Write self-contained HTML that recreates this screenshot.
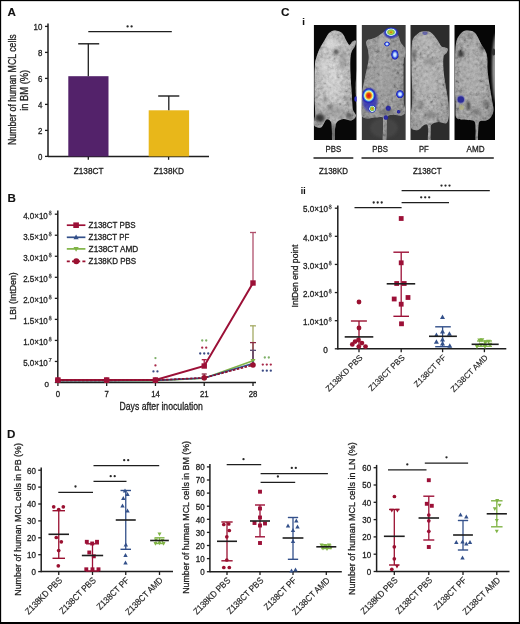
<!DOCTYPE html>
<html><head><meta charset="utf-8"><title>Figure</title>
<style>
html,body{margin:0;padding:0;background:#fff;}
body{width:520px;height:624px;overflow:hidden;}
svg{display:block;font-family:"Liberation Sans", sans-serif;}
</style></head><body>
<svg width="520" height="624" viewBox="0 0 520 624">
<rect x="0" y="0" width="520" height="624" fill="#fff"/>
<text transform="translate(7.40,15.90)" font-size="11.6" text-anchor="start" font-weight="bold" fill="#111" stroke="#111" stroke-width="0.1">A</text>
<line x1="48.00" y1="23.40" x2="48.00" y2="157.10" stroke="#1e1e1e" stroke-width="1.5" />
<line x1="45.00" y1="156.40" x2="48.00" y2="156.40" stroke="#1e1e1e" stroke-width="1.3" />
<text transform="translate(42.40,159.70) scale(0.9200,1)" font-size="8.6" text-anchor="end" font-weight="normal" fill="#1e1e1e" stroke="#1e1e1e" stroke-width="0.3">0</text>
<line x1="45.00" y1="130.40" x2="48.00" y2="130.40" stroke="#1e1e1e" stroke-width="1.3" />
<text transform="translate(42.40,133.70) scale(0.9200,1)" font-size="8.6" text-anchor="end" font-weight="normal" fill="#1e1e1e" stroke="#1e1e1e" stroke-width="0.3">2</text>
<line x1="45.00" y1="104.40" x2="48.00" y2="104.40" stroke="#1e1e1e" stroke-width="1.3" />
<text transform="translate(42.40,107.70) scale(0.9200,1)" font-size="8.6" text-anchor="end" font-weight="normal" fill="#1e1e1e" stroke="#1e1e1e" stroke-width="0.3">4</text>
<line x1="45.00" y1="78.40" x2="48.00" y2="78.40" stroke="#1e1e1e" stroke-width="1.3" />
<text transform="translate(42.40,81.70) scale(0.9200,1)" font-size="8.6" text-anchor="end" font-weight="normal" fill="#1e1e1e" stroke="#1e1e1e" stroke-width="0.3">6</text>
<line x1="45.00" y1="52.40" x2="48.00" y2="52.40" stroke="#1e1e1e" stroke-width="1.3" />
<text transform="translate(42.40,55.70) scale(0.9200,1)" font-size="8.6" text-anchor="end" font-weight="normal" fill="#1e1e1e" stroke="#1e1e1e" stroke-width="0.3">8</text>
<line x1="45.00" y1="26.40" x2="48.00" y2="26.40" stroke="#1e1e1e" stroke-width="1.3" />
<text transform="translate(42.40,29.70) scale(0.9200,1)" font-size="8.6" text-anchor="end" font-weight="normal" fill="#1e1e1e" stroke="#1e1e1e" stroke-width="0.3">10</text>
<line x1="48.00" y1="156.40" x2="209.00" y2="156.40" stroke="#1e1e1e" stroke-width="1.5" />
<line x1="88.30" y1="156.40" x2="88.30" y2="159.80" stroke="#1e1e1e" stroke-width="1.3" />
<line x1="168.60" y1="156.40" x2="168.60" y2="159.80" stroke="#1e1e1e" stroke-width="1.3" />
<rect x="68.3" y="76.2" width="40.2" height="80.20" fill="#53226a"/>
<rect x="148.7" y="110.3" width="40.4" height="46.10" fill="#e8b71a"/>
<line x1="88.30" y1="43.80" x2="88.30" y2="76.20" stroke="#1e1e1e" stroke-width="1.3" />
<line x1="78.20" y1="43.80" x2="99.20" y2="43.80" stroke="#1e1e1e" stroke-width="1.4" />
<line x1="168.80" y1="96.00" x2="168.80" y2="110.30" stroke="#1e1e1e" stroke-width="1.3" />
<line x1="158.20" y1="96.00" x2="179.30" y2="96.00" stroke="#1e1e1e" stroke-width="1.4" />
<line x1="88.30" y1="31.70" x2="171.80" y2="31.70" stroke="#1e1e1e" stroke-width="1.3" />
<circle cx="127.60" cy="26.40" r="1.15" fill="#262626"/>
<circle cx="131.60" cy="26.40" r="1.15" fill="#262626"/>
<text transform="translate(88.60,174.20) scale(0.9270,1)" font-size="8.9" text-anchor="middle" font-weight="normal" fill="#1e1e1e" stroke="#1e1e1e" stroke-width="0.3">Z138CT</text>
<text transform="translate(168.80,174.20) scale(0.9250,1)" font-size="8.9" text-anchor="middle" font-weight="normal" fill="#1e1e1e" stroke="#1e1e1e" stroke-width="0.3">Z138KD</text>
<text transform="translate(16.10,89.65) rotate(-90) scale(0.8614,1)" font-size="10.2" text-anchor="middle" font-weight="normal" fill="#1e1e1e" stroke="#1e1e1e" stroke-width="0.3">Number of human MCL cells</text>
<text transform="translate(27.90,90.30) rotate(-90) scale(0.9158,1)" font-size="10.2" text-anchor="middle" font-weight="normal" fill="#1e1e1e" stroke="#1e1e1e" stroke-width="0.3">in BM (%)</text>
<text transform="translate(7.40,202.20)" font-size="11.6" text-anchor="start" font-weight="bold" fill="#111" stroke="#111" stroke-width="0.1">B</text>
<line x1="57.80" y1="210.40" x2="57.80" y2="383.10" stroke="#1e1e1e" stroke-width="1.5" />
<line x1="54.80" y1="382.50" x2="57.80" y2="382.50" stroke="#1e1e1e" stroke-width="1.3" />
<text transform="translate(49.00,386.50)" font-size="8.0" text-anchor="end" font-weight="normal" fill="#1e1e1e" stroke="#1e1e1e" stroke-width="0.3">0</text>
<line x1="54.80" y1="361.46" x2="57.80" y2="361.46" stroke="#1e1e1e" stroke-width="1.3" />
<text transform="translate(47.82,365.76) scale(0.9300,1)" font-size="8.6" text-anchor="end" font-weight="normal" fill="#1e1e1e" stroke="#1e1e1e" stroke-width="0.3">5.0×10</text>
<text transform="translate(48.52,362.46) scale(0.9500,1)" font-size="6.2" text-anchor="start" font-weight="normal" fill="#1e1e1e" stroke="#1e1e1e" stroke-width="0.2">7</text>
<line x1="54.80" y1="340.43" x2="57.80" y2="340.43" stroke="#1e1e1e" stroke-width="1.3" />
<text transform="translate(47.82,344.73) scale(0.9300,1)" font-size="8.6" text-anchor="end" font-weight="normal" fill="#1e1e1e" stroke="#1e1e1e" stroke-width="0.3">1.0×10</text>
<ellipse cx="50.25" cy="338.07" rx="0.95" ry="0.85" fill="none" stroke="#1e1e1e" stroke-width="0.75"/>
<ellipse cx="50.25" cy="340.08" rx="1.15" ry="1.05" fill="none" stroke="#1e1e1e" stroke-width="0.75"/>
<line x1="54.80" y1="319.39" x2="57.80" y2="319.39" stroke="#1e1e1e" stroke-width="1.3" />
<text transform="translate(47.82,323.69) scale(0.9300,1)" font-size="8.6" text-anchor="end" font-weight="normal" fill="#1e1e1e" stroke="#1e1e1e" stroke-width="0.3">1.5×10</text>
<ellipse cx="50.25" cy="317.04" rx="0.95" ry="0.85" fill="none" stroke="#1e1e1e" stroke-width="0.75"/>
<ellipse cx="50.25" cy="319.04" rx="1.15" ry="1.05" fill="none" stroke="#1e1e1e" stroke-width="0.75"/>
<line x1="54.80" y1="298.35" x2="57.80" y2="298.35" stroke="#1e1e1e" stroke-width="1.3" />
<text transform="translate(47.82,302.65) scale(0.9300,1)" font-size="8.6" text-anchor="end" font-weight="normal" fill="#1e1e1e" stroke="#1e1e1e" stroke-width="0.3">2.0×10</text>
<ellipse cx="50.25" cy="296.00" rx="0.95" ry="0.85" fill="none" stroke="#1e1e1e" stroke-width="0.75"/>
<ellipse cx="50.25" cy="298.00" rx="1.15" ry="1.05" fill="none" stroke="#1e1e1e" stroke-width="0.75"/>
<line x1="54.80" y1="277.31" x2="57.80" y2="277.31" stroke="#1e1e1e" stroke-width="1.3" />
<text transform="translate(47.82,281.61) scale(0.9300,1)" font-size="8.6" text-anchor="end" font-weight="normal" fill="#1e1e1e" stroke="#1e1e1e" stroke-width="0.3">2.5×10</text>
<ellipse cx="50.25" cy="274.96" rx="0.95" ry="0.85" fill="none" stroke="#1e1e1e" stroke-width="0.75"/>
<ellipse cx="50.25" cy="276.96" rx="1.15" ry="1.05" fill="none" stroke="#1e1e1e" stroke-width="0.75"/>
<line x1="54.80" y1="256.27" x2="57.80" y2="256.27" stroke="#1e1e1e" stroke-width="1.3" />
<text transform="translate(47.82,260.57) scale(0.9300,1)" font-size="8.6" text-anchor="end" font-weight="normal" fill="#1e1e1e" stroke="#1e1e1e" stroke-width="0.3">3.0×10</text>
<ellipse cx="50.25" cy="253.92" rx="0.95" ry="0.85" fill="none" stroke="#1e1e1e" stroke-width="0.75"/>
<ellipse cx="50.25" cy="255.92" rx="1.15" ry="1.05" fill="none" stroke="#1e1e1e" stroke-width="0.75"/>
<line x1="54.80" y1="235.24" x2="57.80" y2="235.24" stroke="#1e1e1e" stroke-width="1.3" />
<text transform="translate(47.82,239.54) scale(0.9300,1)" font-size="8.6" text-anchor="end" font-weight="normal" fill="#1e1e1e" stroke="#1e1e1e" stroke-width="0.3">3.5×10</text>
<ellipse cx="50.25" cy="232.89" rx="0.95" ry="0.85" fill="none" stroke="#1e1e1e" stroke-width="0.75"/>
<ellipse cx="50.25" cy="234.89" rx="1.15" ry="1.05" fill="none" stroke="#1e1e1e" stroke-width="0.75"/>
<line x1="54.80" y1="214.20" x2="57.80" y2="214.20" stroke="#1e1e1e" stroke-width="1.3" />
<text transform="translate(47.82,218.50) scale(0.9300,1)" font-size="8.6" text-anchor="end" font-weight="normal" fill="#1e1e1e" stroke="#1e1e1e" stroke-width="0.3">4.0×10</text>
<ellipse cx="50.25" cy="211.85" rx="0.95" ry="0.85" fill="none" stroke="#1e1e1e" stroke-width="0.75"/>
<ellipse cx="50.25" cy="213.85" rx="1.15" ry="1.05" fill="none" stroke="#1e1e1e" stroke-width="0.75"/>
<line x1="57.80" y1="382.50" x2="256.00" y2="382.50" stroke="#1e1e1e" stroke-width="1.6" />
<line x1="57.90" y1="382.50" x2="57.90" y2="386.00" stroke="#1e1e1e" stroke-width="1.3" />
<text transform="translate(57.90,396.80) scale(0.9500,1)" font-size="8.2" text-anchor="middle" font-weight="normal" fill="#1e1e1e" stroke="#1e1e1e" stroke-width="0.3">0</text>
<line x1="106.67" y1="382.50" x2="106.67" y2="386.00" stroke="#1e1e1e" stroke-width="1.3" />
<text transform="translate(106.67,396.80) scale(0.9500,1)" font-size="8.2" text-anchor="middle" font-weight="normal" fill="#1e1e1e" stroke="#1e1e1e" stroke-width="0.3">7</text>
<line x1="155.45" y1="382.50" x2="155.45" y2="386.00" stroke="#1e1e1e" stroke-width="1.3" />
<text transform="translate(155.45,396.80) scale(0.9500,1)" font-size="8.2" text-anchor="middle" font-weight="normal" fill="#1e1e1e" stroke="#1e1e1e" stroke-width="0.3">14</text>
<line x1="204.22" y1="382.50" x2="204.22" y2="386.00" stroke="#1e1e1e" stroke-width="1.3" />
<text transform="translate(204.22,396.80) scale(0.9500,1)" font-size="8.2" text-anchor="middle" font-weight="normal" fill="#1e1e1e" stroke="#1e1e1e" stroke-width="0.3">21</text>
<line x1="253.00" y1="382.50" x2="253.00" y2="386.00" stroke="#1e1e1e" stroke-width="1.3" />
<text transform="translate(253.00,396.80) scale(0.9500,1)" font-size="8.2" text-anchor="middle" font-weight="normal" fill="#1e1e1e" stroke="#1e1e1e" stroke-width="0.3">28</text>
<text transform="translate(161.20,409.60) scale(0.8350,1)" font-size="10.4" text-anchor="middle" font-weight="normal" fill="#1e1e1e" stroke="#1e1e1e" stroke-width="0.3">Days after inoculation</text>
<text transform="translate(15.70,296.00) rotate(-90) scale(0.9374,1)" font-size="9.4" text-anchor="middle" font-weight="normal" fill="#1e1e1e" stroke="#1e1e1e" stroke-width="0.3">LBI (IntDen)</text>
<line x1="253.00" y1="232.50" x2="253.00" y2="283.00" stroke="#b0506c" stroke-width="1.3" opacity="1.0"/>
<line x1="250.00" y1="232.50" x2="256.00" y2="232.50" stroke="#b0506c" stroke-width="1.3" opacity="1.0"/>
<line x1="253.00" y1="325.80" x2="253.00" y2="361.00" stroke="#a4aa64" stroke-width="1.3" opacity="1.0"/>
<line x1="250.00" y1="325.80" x2="256.00" y2="325.80" stroke="#a4aa64" stroke-width="1.3" opacity="1.0"/>
<line x1="253.00" y1="342.60" x2="253.00" y2="365.00" stroke="#8a2a44" stroke-width="1.3" opacity="1.0"/>
<line x1="250.00" y1="342.60" x2="256.00" y2="342.60" stroke="#8a2a44" stroke-width="1.3" opacity="1.0"/>
<line x1="253.00" y1="350.30" x2="253.00" y2="364.00" stroke="#5a4a70" stroke-width="1.3" opacity="1.0"/>
<line x1="250.00" y1="350.30" x2="256.00" y2="350.30" stroke="#5a4a70" stroke-width="1.3" opacity="1.0"/>
<line x1="204.22" y1="359.70" x2="204.22" y2="366.00" stroke="#a8133c" stroke-width="1.3" opacity="1.0"/>
<line x1="201.72" y1="359.70" x2="206.72" y2="359.70" stroke="#a8133c" stroke-width="1.3" opacity="1.0"/>
<line x1="204.22" y1="374.00" x2="204.22" y2="378.00" stroke="#8a2a44" stroke-width="1.3" opacity="1.0"/>
<line x1="201.72" y1="374.00" x2="206.72" y2="374.00" stroke="#8a2a44" stroke-width="1.3" opacity="1.0"/>
<polyline points="57.90,380.80 106.67,380.80 155.45,380.60 204.22,378.20 253.00,360.80" fill="none" stroke="#80b446" stroke-width="1.6"/>
<polyline points="57.90,380.60 106.67,380.60 155.45,380.40 204.22,378.00 253.00,363.50" fill="none" stroke="#33508a" stroke-width="1.6"/>
<polyline points="57.90,380.00 106.67,380.00 155.45,380.00 204.22,366.00 253.00,283.00" fill="none" stroke="#9c1037" stroke-width="2.0"/>
<polyline points="57.90,380.30 106.67,380.30 155.45,380.20 204.22,377.80 253.00,365.00" fill="none" stroke="#8a1030" stroke-width="1.7" stroke-dasharray="2.6,1.4"/>
<polygon points="57.90,383.50 55.40,379.00 60.40,379.00" fill="#80b446"/>
<polygon points="106.67,383.50 104.17,379.00 109.17,379.00" fill="#80b446"/>
<polygon points="155.45,383.30 152.95,378.80 157.95,378.80" fill="#80b446"/>
<polygon points="204.22,380.90 201.72,376.40 206.72,376.40" fill="#80b446"/>
<polygon points="253.00,363.50 250.50,359.00 255.50,359.00" fill="#80b446"/>
<polygon points="57.90,377.90 55.40,382.40 60.40,382.40" fill="#33508a"/>
<polygon points="106.67,377.90 104.17,382.40 109.17,382.40" fill="#33508a"/>
<polygon points="155.45,377.70 152.95,382.20 157.95,382.20" fill="#33508a"/>
<polygon points="204.22,375.30 201.72,379.80 206.72,379.80" fill="#33508a"/>
<polygon points="253.00,360.80 250.50,365.30 255.50,365.30" fill="#33508a"/>
<circle cx="57.90" cy="380.30" r="2.8" fill="#9a1030"/>
<circle cx="106.67" cy="380.30" r="2.8" fill="#9a1030"/>
<circle cx="155.45" cy="380.20" r="2.8" fill="#9a1030"/>
<circle cx="204.22" cy="377.80" r="2.8" fill="#9a1030"/>
<circle cx="253.00" cy="365.00" r="2.8" fill="#9a1030"/>
<rect x="55.20" y="377.30" width="5.4" height="5.4" fill="#9c1037"/>
<rect x="103.97" y="377.30" width="5.4" height="5.4" fill="#9c1037"/>
<rect x="152.75" y="377.30" width="5.4" height="5.4" fill="#9c1037"/>
<rect x="201.53" y="363.30" width="5.4" height="5.4" fill="#9c1037"/>
<rect x="250.30" y="280.30" width="5.4" height="5.4" fill="#9c1037"/>
<circle cx="155.45" cy="358.10" r="1.15" fill="#7eb068"/>
<circle cx="155.45" cy="365.40" r="1.15" fill="#a82848"/>
<circle cx="153.45" cy="371.40" r="1.15" fill="#3a4a84"/>
<circle cx="157.45" cy="371.40" r="1.15" fill="#3a4a84"/>
<circle cx="202.22" cy="340.50" r="1.15" fill="#7eb068"/>
<circle cx="206.22" cy="340.50" r="1.15" fill="#7eb068"/>
<circle cx="202.22" cy="347.70" r="1.15" fill="#a82848"/>
<circle cx="206.22" cy="347.70" r="1.15" fill="#a82848"/>
<circle cx="200.22" cy="353.50" r="1.15" fill="#3a4a84"/>
<circle cx="204.22" cy="353.50" r="1.15" fill="#3a4a84"/>
<circle cx="208.22" cy="353.50" r="1.15" fill="#3a4a84"/>
<circle cx="264.80" cy="357.50" r="1.15" fill="#7eb068"/>
<circle cx="268.80" cy="357.50" r="1.15" fill="#7eb068"/>
<circle cx="262.80" cy="364.60" r="1.15" fill="#a82848"/>
<circle cx="266.80" cy="364.60" r="1.15" fill="#a82848"/>
<circle cx="270.80" cy="364.60" r="1.15" fill="#a82848"/>
<circle cx="262.80" cy="370.70" r="1.15" fill="#3a4a84"/>
<circle cx="266.80" cy="370.70" r="1.15" fill="#3a4a84"/>
<circle cx="270.80" cy="370.70" r="1.15" fill="#3a4a84"/>
<line x1="66.80" y1="225.20" x2="85.40" y2="225.20" stroke="#9c1037" stroke-width="1.7" />
<rect x="73.30" y="222.40" width="5.6" height="5.6" fill="#9c1037"/>
<text transform="translate(88.60,228.30) scale(0.9306,1)" font-size="8.6" text-anchor="start" font-weight="normal" fill="#1e1e1e" stroke="#1e1e1e" stroke-width="0.3">Z138CT PBS</text>
<line x1="66.80" y1="237.30" x2="85.40" y2="237.30" stroke="#33508a" stroke-width="1.7" />
<polygon points="76.10,234.49 73.50,239.17 78.70,239.17" fill="#33508a"/>
<text transform="translate(88.60,240.40) scale(0.9213,1)" font-size="8.6" text-anchor="start" font-weight="normal" fill="#1e1e1e" stroke="#1e1e1e" stroke-width="0.3">Z138CT PF</text>
<line x1="66.80" y1="248.90" x2="85.40" y2="248.90" stroke="#80b446" stroke-width="1.7" />
<polygon points="76.10,251.71 73.50,247.03 78.70,247.03" fill="#80b446"/>
<text transform="translate(88.60,252.00) scale(0.9589,1)" font-size="8.6" text-anchor="start" font-weight="normal" fill="#1e1e1e" stroke="#1e1e1e" stroke-width="0.3">Z138CT AMD</text>
<line x1="66.80" y1="261.30" x2="85.40" y2="261.30" stroke="#9a1030" stroke-width="1.7" stroke-dasharray="3,2.2"/>
<circle cx="76.30" cy="261.30" r="3.0" fill="#9a1030"/>
<text transform="translate(88.60,264.40) scale(0.9307,1)" font-size="8.6" text-anchor="start" font-weight="normal" fill="#1e1e1e" stroke="#1e1e1e" stroke-width="0.3">Z138KD PBS</text>
<text transform="translate(281.00,16.20)" font-size="11.8" text-anchor="start" font-weight="bold" fill="#111" stroke="#111" stroke-width="0.1">C</text>
<text transform="translate(302.30,24.80)" font-size="9.5" text-anchor="start" font-weight="bold" fill="#111" stroke="#111" stroke-width="0.1">i</text>
<defs>
<filter id="bl1" x="-20%" y="-20%" width="140%" height="140%"><feGaussianBlur stdDeviation="0.8"/></filter>
<filter id="bl2" x="-50%" y="-50%" width="200%" height="200%"><feGaussianBlur stdDeviation="1.6"/></filter>
<filter id="bl3" x="-50%" y="-50%" width="200%" height="200%"><feGaussianBlur stdDeviation="0.6"/></filter>
<filter id="noise" x="0" y="0" width="100%" height="100%"><feTurbulence type="fractalNoise" baseFrequency="0.3" numOctaves="3" seed="7"/><feColorMatrix type="matrix" values="0.7 0.7 0.7 0 -0.55  0.7 0.7 0.7 0 -0.55  0.7 0.7 0.7 0 -0.55  0 0 0 0 1"/></filter>
<radialGradient id="mg0" cx="45%" cy="38%" r="65%"><stop offset="0" stop-color="#d8d8d8"/><stop offset="0.6" stop-color="#b2b2b2"/><stop offset="1" stop-color="#828282"/></radialGradient>
<radialGradient id="mg1" cx="45%" cy="38%" r="65%"><stop offset="0" stop-color="#929292"/><stop offset="0.6" stop-color="#7e7e7e"/><stop offset="1" stop-color="#626262"/></radialGradient>
<radialGradient id="mg2" cx="45%" cy="38%" r="65%"><stop offset="0" stop-color="#b0b0b0"/><stop offset="0.6" stop-color="#9a9a9a"/><stop offset="1" stop-color="#767676"/></radialGradient>
<radialGradient id="mg3" cx="45%" cy="38%" r="65%"><stop offset="0" stop-color="#a8a8a8"/><stop offset="0.6" stop-color="#8e8e8e"/><stop offset="1" stop-color="#6a6a6a"/></radialGradient>
<clipPath id="ci1"><rect x="313.7" y="25.0" width="43.0" height="115.0"/></clipPath>
<clipPath id="ci2"><rect x="361.6" y="25.0" width="44.2" height="115.0"/></clipPath>
<clipPath id="ci3"><rect x="410.3" y="25.0" width="39.4" height="115.0"/></clipPath>
<clipPath id="ci4"><rect x="454.3" y="25.0" width="40.7" height="115.0"/></clipPath>
<clipPath id="mc1"><path d="M335.50,30.60 C337.00,30.73 339.17,31.27 340.50,32.00 C341.83,32.73 342.50,33.50 343.50,35.00 C344.50,36.50 345.50,39.33 346.50,41.00 C347.50,42.67 348.50,44.92 349.50,45.00 C350.50,45.08 351.45,42.20 352.50,41.50 C353.55,40.80 355.38,40.05 355.80,40.80 C356.22,41.55 355.72,44.13 355.00,46.00 C354.28,47.87 352.28,49.67 351.50,52.00 C350.72,54.33 350.47,56.17 350.30,60.00 C350.13,63.83 350.30,70.00 350.50,75.00 C350.70,80.00 351.20,85.33 351.50,90.00 C351.80,94.67 352.05,99.67 352.30,103.00 C352.55,106.33 352.38,107.83 353.00,110.00 C353.62,112.17 356.28,114.25 356.00,116.00 C355.72,117.75 353.37,120.00 351.30,120.50 C349.23,121.00 345.98,118.75 343.60,119.00 C341.22,119.25 338.45,120.17 337.00,122.00 C335.55,123.83 335.30,126.83 334.90,130.00 C334.50,133.17 335.05,139.17 334.60,141.00 C334.15,142.83 332.65,142.83 332.20,141.00 C331.75,139.17 332.10,133.17 331.90,130.00 C331.70,126.83 331.92,123.75 331.00,122.00 C330.08,120.25 328.07,118.58 326.40,119.50 C324.73,120.42 323.07,126.58 321.00,127.50 C318.93,128.42 314.97,127.20 314.00,125.00 C313.03,122.80 315.10,118.47 315.20,114.30 C315.30,110.13 314.72,105.72 314.60,100.00 C314.48,94.28 314.43,86.00 314.50,80.00 C314.57,74.00 314.72,67.67 315.00,64.00 C315.28,60.33 315.67,60.00 316.20,58.00 C316.73,56.00 317.48,53.83 318.20,52.00 C318.92,50.17 319.62,48.67 320.50,47.00 C321.38,45.33 322.62,43.50 323.50,42.00 C324.38,40.50 325.02,39.33 325.80,38.00 C326.58,36.67 327.25,35.13 328.20,34.00 C329.15,32.87 330.28,31.77 331.50,31.20 C332.72,30.63 334.00,30.47 335.50,30.60 Z"/></clipPath>
<clipPath id="mc2"><path d="M383.00,32.50 C384.75,31.33 386.17,29.83 388.00,29.50 C389.83,29.17 392.25,29.42 394.00,30.50 C395.75,31.58 397.42,34.08 398.50,36.00 C399.58,37.92 399.67,40.33 400.50,42.00 C401.33,43.67 402.50,44.67 403.50,46.00 C404.50,47.33 406.17,48.50 406.50,50.00 C406.83,51.50 405.95,53.33 405.50,55.00 C405.05,56.67 404.13,56.67 403.80,60.00 C403.47,63.33 403.55,69.67 403.50,75.00 C403.45,80.33 403.42,87.17 403.50,92.00 C403.58,96.83 403.58,100.83 404.00,104.00 C404.42,107.17 406.33,109.08 406.00,111.00 C405.67,112.92 404.00,114.83 402.00,115.50 C400.00,116.17 396.33,114.92 394.00,115.00 C391.67,115.08 389.23,114.33 388.00,116.00 C386.77,117.67 386.93,120.83 386.60,125.00 C386.27,129.17 386.60,138.33 386.00,141.00 C385.40,143.67 383.43,143.67 383.00,141.00 C382.57,138.33 383.37,128.92 383.40,125.00 C383.43,121.08 384.43,118.75 383.20,117.50 C381.97,116.25 378.87,117.33 376.00,117.50 C373.13,117.67 368.42,118.92 366.00,118.50 C363.58,118.08 362.25,117.42 361.50,115.00 C360.75,112.58 361.33,108.17 361.50,104.00 C361.67,99.83 361.83,94.83 362.50,90.00 C363.17,85.17 364.50,80.00 365.50,75.00 C366.50,70.00 368.08,64.17 368.50,60.00 C368.92,55.83 368.42,52.75 368.00,50.00 C367.58,47.25 366.08,45.17 366.00,43.50 C365.92,41.83 366.58,40.75 367.50,40.00 C368.42,39.25 369.83,39.58 371.50,39.00 C373.17,38.42 375.58,37.58 377.50,36.50 C379.42,35.42 381.25,33.67 383.00,32.50 Z"/></clipPath>
<clipPath id="mc3"><path d="M424.70,31.20 C426.20,31.23 428.45,31.28 430.00,32.00 C431.55,32.72 432.67,34.00 434.00,35.50 C435.33,37.00 436.75,39.17 438.00,41.00 C439.25,42.83 440.33,45.42 441.50,46.50 C442.67,47.58 443.92,47.08 445.00,47.50 C446.08,47.92 447.75,48.08 448.00,49.00 C448.25,49.92 447.25,51.67 446.50,53.00 C445.75,54.33 444.00,54.17 443.50,57.00 C443.00,59.83 443.17,65.33 443.50,70.00 C443.83,74.67 444.75,80.00 445.50,85.00 C446.25,90.00 447.42,95.83 448.00,100.00 C448.58,104.17 448.92,107.00 449.00,110.00 C449.08,113.00 449.00,115.75 448.50,118.00 C448.00,120.25 447.63,122.83 446.00,123.50 C444.37,124.17 441.12,121.83 438.70,122.00 C436.28,122.17 432.85,122.83 431.50,124.50 C430.15,126.17 430.78,129.25 430.60,132.00 C430.42,134.75 430.83,139.50 430.40,141.00 C429.97,142.50 428.40,142.50 428.00,141.00 C427.60,139.50 428.08,134.67 428.00,132.00 C427.92,129.33 428.17,126.17 427.50,125.00 C426.83,123.83 425.58,124.17 424.00,125.00 C422.42,125.83 420.17,129.50 418.00,130.00 C415.83,130.50 412.23,130.00 411.00,128.00 C409.77,126.00 410.43,122.00 410.60,118.00 C410.77,114.00 411.77,109.50 412.00,104.00 C412.23,98.50 412.08,91.50 412.00,85.00 C411.92,78.50 411.55,71.17 411.50,65.00 C411.45,58.83 411.45,52.33 411.70,48.00 C411.95,43.67 412.03,41.33 413.00,39.00 C413.97,36.67 416.17,35.20 417.50,34.00 C418.83,32.80 419.80,32.27 421.00,31.80 C422.20,31.33 423.20,31.17 424.70,31.20 Z"/></clipPath>
<clipPath id="mc4"><path d="M466.90,30.40 C468.40,30.32 470.57,30.48 472.00,31.00 C473.43,31.52 474.42,32.25 475.50,33.50 C476.58,34.75 477.47,36.58 478.50,38.50 C479.53,40.42 480.53,42.92 481.70,45.00 C482.87,47.08 484.57,48.83 485.50,51.00 C486.43,53.17 486.97,54.83 487.30,58.00 C487.63,61.17 487.13,65.50 487.50,70.00 C487.87,74.50 488.75,80.00 489.50,85.00 C490.25,90.00 491.33,95.83 492.00,100.00 C492.67,104.17 493.67,107.17 493.50,110.00 C493.33,112.83 492.25,115.25 491.00,117.00 C489.75,118.75 487.92,119.75 486.00,120.50 C484.08,121.25 480.80,119.92 479.50,121.50 C478.20,123.08 478.48,126.75 478.20,130.00 C477.92,133.25 478.23,139.17 477.80,141.00 C477.37,142.83 475.97,142.83 475.60,141.00 C475.23,139.17 475.78,133.25 475.60,130.00 C475.42,126.75 475.77,123.17 474.50,121.50 C473.23,119.83 470.25,120.33 468.00,120.00 C465.75,119.67 463.00,120.00 461.00,119.50 C459.00,119.00 456.90,119.42 456.00,117.00 C455.10,114.58 455.77,109.50 455.60,105.00 C455.43,100.50 455.10,95.83 455.00,90.00 C454.90,84.17 454.95,76.33 455.00,70.00 C455.05,63.67 455.05,56.83 455.30,52.00 C455.55,47.17 455.80,43.83 456.50,41.00 C457.20,38.17 458.42,36.58 459.50,35.00 C460.58,33.42 461.77,32.27 463.00,31.50 C464.23,30.73 465.40,30.48 466.90,30.40 Z"/></clipPath>
<radialGradient id="hot"><stop offset="0" stop-color="#d81010"/><stop offset="0.3" stop-color="#e84a10"/><stop offset="0.45" stop-color="#f0d830"/><stop offset="0.56" stop-color="#e8f0d0"/><stop offset="0.66" stop-color="#50b0e0"/><stop offset="0.8" stop-color="#2424c0"/><stop offset="1" stop-color="#2020b0" stop-opacity="0"/></radialGradient>
<radialGradient id="warm"><stop offset="0" stop-color="#c05010"/><stop offset="0.22" stop-color="#d8c020"/><stop offset="0.45" stop-color="#70c050"/><stop offset="0.62" stop-color="#e0f0f0"/><stop offset="0.75" stop-color="#3050d0"/><stop offset="1" stop-color="#2020b0" stop-opacity="0"/></radialGradient>
<radialGradient id="cool"><stop offset="0" stop-color="#f4f8ff"/><stop offset="0.35" stop-color="#b0d0ff"/><stop offset="0.6" stop-color="#3858e0"/><stop offset="0.82" stop-color="#2020b8"/><stop offset="1" stop-color="#2020b0" stop-opacity="0"/></radialGradient>
<radialGradient id="blu"><stop offset="0" stop-color="#3434a8"/><stop offset="0.6" stop-color="#26269c"/><stop offset="1" stop-color="#202098" stop-opacity="0"/></radialGradient>
<radialGradient id="halo"><stop offset="0" stop-color="#2828c0" stop-opacity="0.9"/><stop offset="0.7" stop-color="#2828b8" stop-opacity="0.7"/><stop offset="1" stop-color="#2020b0" stop-opacity="0"/></radialGradient>
</defs>
<g clip-path="url(#ci1)">
<rect x="313.7" y="25.0" width="43.0" height="115.0" fill="#080808"/>
<ellipse cx="360.2" cy="88" rx="4.5" ry="26" fill="#c8c8c8" filter="url(#bl3)"/>
<path d="M335.50,30.60 C337.00,30.73 339.17,31.27 340.50,32.00 C341.83,32.73 342.50,33.50 343.50,35.00 C344.50,36.50 345.50,39.33 346.50,41.00 C347.50,42.67 348.50,44.92 349.50,45.00 C350.50,45.08 351.45,42.20 352.50,41.50 C353.55,40.80 355.38,40.05 355.80,40.80 C356.22,41.55 355.72,44.13 355.00,46.00 C354.28,47.87 352.28,49.67 351.50,52.00 C350.72,54.33 350.47,56.17 350.30,60.00 C350.13,63.83 350.30,70.00 350.50,75.00 C350.70,80.00 351.20,85.33 351.50,90.00 C351.80,94.67 352.05,99.67 352.30,103.00 C352.55,106.33 352.38,107.83 353.00,110.00 C353.62,112.17 356.28,114.25 356.00,116.00 C355.72,117.75 353.37,120.00 351.30,120.50 C349.23,121.00 345.98,118.75 343.60,119.00 C341.22,119.25 338.45,120.17 337.00,122.00 C335.55,123.83 335.30,126.83 334.90,130.00 C334.50,133.17 335.05,139.17 334.60,141.00 C334.15,142.83 332.65,142.83 332.20,141.00 C331.75,139.17 332.10,133.17 331.90,130.00 C331.70,126.83 331.92,123.75 331.00,122.00 C330.08,120.25 328.07,118.58 326.40,119.50 C324.73,120.42 323.07,126.58 321.00,127.50 C318.93,128.42 314.97,127.20 314.00,125.00 C313.03,122.80 315.10,118.47 315.20,114.30 C315.30,110.13 314.72,105.72 314.60,100.00 C314.48,94.28 314.43,86.00 314.50,80.00 C314.57,74.00 314.72,67.67 315.00,64.00 C315.28,60.33 315.67,60.00 316.20,58.00 C316.73,56.00 317.48,53.83 318.20,52.00 C318.92,50.17 319.62,48.67 320.50,47.00 C321.38,45.33 322.62,43.50 323.50,42.00 C324.38,40.50 325.02,39.33 325.80,38.00 C326.58,36.67 327.25,35.13 328.20,34.00 C329.15,32.87 330.28,31.77 331.50,31.20 C332.72,30.63 334.00,30.47 335.50,30.60 Z" fill="url(#mg0)" filter="url(#bl3)"/>
<g clip-path="url(#mc1)">
<rect x="313.7" y="25.0" width="43.0" height="115.0" filter="url(#noise)" opacity="0.4" style="mix-blend-mode:multiply"/>
<ellipse cx="336" cy="52" rx="2.2" ry="2.8" fill="#303030" opacity="0.85" filter="url(#bl2)"/>
<ellipse cx="331" cy="44" rx="6" ry="5" fill="#e8e8e8" opacity="0.55" filter="url(#bl2)"/>
<ellipse cx="324" cy="66" rx="5" ry="8" fill="#e0e0e0" opacity="0.45" filter="url(#bl2)"/>
<ellipse cx="343" cy="60" rx="4" ry="10" fill="#8a8a8a" opacity="0.5" filter="url(#bl2)"/>
<ellipse cx="330.5" cy="107" rx="2.2" ry="2.2" fill="#404040" opacity="0.8" filter="url(#bl2)"/>
<ellipse cx="326" cy="99" rx="2" ry="2" fill="#606060" opacity="0.6" filter="url(#bl2)"/>
<ellipse cx="347" cy="99" rx="2" ry="2" fill="#606060" opacity="0.6" filter="url(#bl2)"/>
<ellipse cx="333" cy="85" rx="9" ry="14" fill="#d8d8d8" opacity="0.35" filter="url(#bl2)"/>
<ellipse cx="320" cy="118" rx="5" ry="4" fill="#202020" opacity="0.85" filter="url(#bl2)"/>
<ellipse cx="349" cy="116" rx="3" ry="3" fill="#303030" opacity="0.6" filter="url(#bl2)"/>
<ellipse cx="333.4" cy="133" rx="2.5" ry="10" fill="#505050" opacity="0.7" filter="url(#bl2)"/>
<ellipse cx="335" cy="112" rx="12" ry="6" fill="#8a8a8a" opacity="0.45" filter="url(#bl2)"/>
</g>
<ellipse cx="356.0" cy="99.0" rx="1.8" ry="2.8" fill="#3030c8" opacity="1.0" filter="url(#bl3)"/>
</g>
<g clip-path="url(#ci2)">
<rect x="361.6" y="25.0" width="44.2" height="115.0" fill="#3a3a3a"/>
<ellipse cx="384" cy="128" rx="14" ry="10" fill="#484848" opacity="0.8" filter="url(#bl2)"/>
<path d="M383.2,116 L386.8,116 L386.2,141 L382.8,141 Z" fill="#b8b8b8" filter="url(#bl3)"/>
<path d="M383.00,32.50 C384.75,31.33 386.17,29.83 388.00,29.50 C389.83,29.17 392.25,29.42 394.00,30.50 C395.75,31.58 397.42,34.08 398.50,36.00 C399.58,37.92 399.67,40.33 400.50,42.00 C401.33,43.67 402.50,44.67 403.50,46.00 C404.50,47.33 406.17,48.50 406.50,50.00 C406.83,51.50 405.95,53.33 405.50,55.00 C405.05,56.67 404.13,56.67 403.80,60.00 C403.47,63.33 403.55,69.67 403.50,75.00 C403.45,80.33 403.42,87.17 403.50,92.00 C403.58,96.83 403.58,100.83 404.00,104.00 C404.42,107.17 406.33,109.08 406.00,111.00 C405.67,112.92 404.00,114.83 402.00,115.50 C400.00,116.17 396.33,114.92 394.00,115.00 C391.67,115.08 389.23,114.33 388.00,116.00 C386.77,117.67 386.93,120.83 386.60,125.00 C386.27,129.17 386.60,138.33 386.00,141.00 C385.40,143.67 383.43,143.67 383.00,141.00 C382.57,138.33 383.37,128.92 383.40,125.00 C383.43,121.08 384.43,118.75 383.20,117.50 C381.97,116.25 378.87,117.33 376.00,117.50 C373.13,117.67 368.42,118.92 366.00,118.50 C363.58,118.08 362.25,117.42 361.50,115.00 C360.75,112.58 361.33,108.17 361.50,104.00 C361.67,99.83 361.83,94.83 362.50,90.00 C363.17,85.17 364.50,80.00 365.50,75.00 C366.50,70.00 368.08,64.17 368.50,60.00 C368.92,55.83 368.42,52.75 368.00,50.00 C367.58,47.25 366.08,45.17 366.00,43.50 C365.92,41.83 366.58,40.75 367.50,40.00 C368.42,39.25 369.83,39.58 371.50,39.00 C373.17,38.42 375.58,37.58 377.50,36.50 C379.42,35.42 381.25,33.67 383.00,32.50 Z" fill="url(#mg1)" filter="url(#bl3)"/>
<g clip-path="url(#mc2)">
<rect x="361.6" y="25.0" width="44.2" height="115.0" filter="url(#noise)" opacity="0.4" style="mix-blend-mode:multiply"/>
<ellipse cx="384" cy="42" rx="6" ry="6" fill="#b8b8b8" opacity="0.6" filter="url(#bl2)"/>
<ellipse cx="384" cy="75" rx="10" ry="18" fill="#a0a0a0" opacity="0.35" filter="url(#bl2)"/>
<ellipse cx="386" cy="112" rx="8" ry="3" fill="#5a5a5a" opacity="0.5" filter="url(#bl2)"/>
</g>
<ellipse cx="370.0" cy="100.0" rx="9.0" ry="13.5" fill="url(#halo)"/>
<ellipse cx="391.2" cy="33.0" rx="8.6" ry="6.4" fill="url(#halo)"/>
<ellipse cx="391.0" cy="32.2" rx="7.2" ry="5.2" fill="url(#warm)"/>
<ellipse cx="387.0" cy="44.0" rx="3.0" ry="2.8" fill="url(#cool)"/>
<ellipse cx="394.9" cy="54.7" rx="4.0" ry="5.4" fill="url(#cool)"/>
<ellipse cx="368.8" cy="95.6" rx="7.4" ry="8.2" fill="url(#hot)"/>
<ellipse cx="372.2" cy="108.8" rx="4.2" ry="4.4" fill="url(#warm)"/>
<ellipse cx="400.0" cy="94.2" rx="4.2" ry="4.4" fill="url(#cool)"/>
<ellipse cx="388.3" cy="108.3" rx="3.2" ry="3.2" fill="url(#blu)"/>
<ellipse cx="385.9" cy="117.6" rx="2.8" ry="2.8" fill="url(#blu)"/>
<ellipse cx="398.6" cy="111.8" rx="2.2" ry="2.2" fill="url(#blu)"/>
</g>
<g clip-path="url(#ci3)">
<rect x="410.3" y="25.0" width="39.4" height="115.0" fill="#2c2c2c"/>
<ellipse cx="452.5" cy="72" rx="3" ry="20" fill="#8a8a8a" filter="url(#bl3)"/>
<path d="M424.70,31.20 C426.20,31.23 428.45,31.28 430.00,32.00 C431.55,32.72 432.67,34.00 434.00,35.50 C435.33,37.00 436.75,39.17 438.00,41.00 C439.25,42.83 440.33,45.42 441.50,46.50 C442.67,47.58 443.92,47.08 445.00,47.50 C446.08,47.92 447.75,48.08 448.00,49.00 C448.25,49.92 447.25,51.67 446.50,53.00 C445.75,54.33 444.00,54.17 443.50,57.00 C443.00,59.83 443.17,65.33 443.50,70.00 C443.83,74.67 444.75,80.00 445.50,85.00 C446.25,90.00 447.42,95.83 448.00,100.00 C448.58,104.17 448.92,107.00 449.00,110.00 C449.08,113.00 449.00,115.75 448.50,118.00 C448.00,120.25 447.63,122.83 446.00,123.50 C444.37,124.17 441.12,121.83 438.70,122.00 C436.28,122.17 432.85,122.83 431.50,124.50 C430.15,126.17 430.78,129.25 430.60,132.00 C430.42,134.75 430.83,139.50 430.40,141.00 C429.97,142.50 428.40,142.50 428.00,141.00 C427.60,139.50 428.08,134.67 428.00,132.00 C427.92,129.33 428.17,126.17 427.50,125.00 C426.83,123.83 425.58,124.17 424.00,125.00 C422.42,125.83 420.17,129.50 418.00,130.00 C415.83,130.50 412.23,130.00 411.00,128.00 C409.77,126.00 410.43,122.00 410.60,118.00 C410.77,114.00 411.77,109.50 412.00,104.00 C412.23,98.50 412.08,91.50 412.00,85.00 C411.92,78.50 411.55,71.17 411.50,65.00 C411.45,58.83 411.45,52.33 411.70,48.00 C411.95,43.67 412.03,41.33 413.00,39.00 C413.97,36.67 416.17,35.20 417.50,34.00 C418.83,32.80 419.80,32.27 421.00,31.80 C422.20,31.33 423.20,31.17 424.70,31.20 Z" fill="url(#mg2)" filter="url(#bl3)"/>
<g clip-path="url(#mc3)">
<rect x="410.3" y="25.0" width="39.4" height="115.0" filter="url(#noise)" opacity="0.4" style="mix-blend-mode:multiply"/>
<ellipse cx="425" cy="40" rx="8" ry="6" fill="#bcbcbc" opacity="0.5" filter="url(#bl2)"/>
<ellipse cx="414" cy="55" rx="2.5" ry="5" fill="#505050" opacity="0.6" filter="url(#bl2)"/>
<ellipse cx="430" cy="62" rx="6" ry="4" fill="#7a7a7a" opacity="0.5" filter="url(#bl2)"/>
<ellipse cx="428" cy="80" rx="10" ry="16" fill="#b0b0b0" opacity="0.35" filter="url(#bl2)"/>
<ellipse cx="420" cy="105" rx="4" ry="4" fill="#707070" opacity="0.5" filter="url(#bl2)"/>
<ellipse cx="430" cy="115" rx="6" ry="3" fill="#6a6a6a" opacity="0.6" filter="url(#bl2)"/>
<ellipse cx="412" cy="95" rx="2" ry="10" fill="#5a5a5a" opacity="0.6" filter="url(#bl2)"/>
</g>
<ellipse cx="425.0" cy="33.2" rx="3.2" ry="2.2" fill="url(#blu)" opacity="0.55"/>
</g>
<g clip-path="url(#ci4)">
<rect x="454.3" y="25.0" width="40.7" height="115.0" fill="#060606"/>
<ellipse cx="497.5" cy="68" rx="5.5" ry="36" fill="#9a9a9a" filter="url(#bl1)"/>
<ellipse cx="493.6" cy="52" rx="1.6" ry="3.5" fill="#303030" filter="url(#bl3)"/>
<path d="M466.90,30.40 C468.40,30.32 470.57,30.48 472.00,31.00 C473.43,31.52 474.42,32.25 475.50,33.50 C476.58,34.75 477.47,36.58 478.50,38.50 C479.53,40.42 480.53,42.92 481.70,45.00 C482.87,47.08 484.57,48.83 485.50,51.00 C486.43,53.17 486.97,54.83 487.30,58.00 C487.63,61.17 487.13,65.50 487.50,70.00 C487.87,74.50 488.75,80.00 489.50,85.00 C490.25,90.00 491.33,95.83 492.00,100.00 C492.67,104.17 493.67,107.17 493.50,110.00 C493.33,112.83 492.25,115.25 491.00,117.00 C489.75,118.75 487.92,119.75 486.00,120.50 C484.08,121.25 480.80,119.92 479.50,121.50 C478.20,123.08 478.48,126.75 478.20,130.00 C477.92,133.25 478.23,139.17 477.80,141.00 C477.37,142.83 475.97,142.83 475.60,141.00 C475.23,139.17 475.78,133.25 475.60,130.00 C475.42,126.75 475.77,123.17 474.50,121.50 C473.23,119.83 470.25,120.33 468.00,120.00 C465.75,119.67 463.00,120.00 461.00,119.50 C459.00,119.00 456.90,119.42 456.00,117.00 C455.10,114.58 455.77,109.50 455.60,105.00 C455.43,100.50 455.10,95.83 455.00,90.00 C454.90,84.17 454.95,76.33 455.00,70.00 C455.05,63.67 455.05,56.83 455.30,52.00 C455.55,47.17 455.80,43.83 456.50,41.00 C457.20,38.17 458.42,36.58 459.50,35.00 C460.58,33.42 461.77,32.27 463.00,31.50 C464.23,30.73 465.40,30.48 466.90,30.40 Z" fill="url(#mg3)" filter="url(#bl3)"/>
<g clip-path="url(#mc4)">
<rect x="454.3" y="25.0" width="40.7" height="115.0" filter="url(#noise)" opacity="0.4" style="mix-blend-mode:multiply"/>
<ellipse cx="460.8" cy="54" rx="2.8" ry="3.5" fill="#282828" opacity="0.9" filter="url(#bl2)"/>
<ellipse cx="482.5" cy="48" rx="2.2" ry="2.5" fill="#303030" opacity="0.8" filter="url(#bl2)"/>
<ellipse cx="470.5" cy="35.5" rx="2" ry="1.5" fill="#404040" opacity="0.6" filter="url(#bl2)"/>
<ellipse cx="470" cy="75" rx="10" ry="16" fill="#ababab" opacity="0.35" filter="url(#bl2)"/>
<ellipse cx="468.5" cy="106" rx="1.8" ry="4.5" fill="#303030" opacity="0.8" filter="url(#bl2)"/>
<ellipse cx="476" cy="112" rx="4" ry="3" fill="#505050" opacity="0.5" filter="url(#bl2)"/>
<ellipse cx="465" cy="62" rx="4" ry="4" fill="#b8b8b8" opacity="0.5" filter="url(#bl2)"/>
<ellipse cx="486" cy="104" rx="3" ry="3" fill="#505050" opacity="0.6" filter="url(#bl2)"/>
</g>
<ellipse cx="460.8" cy="99.5" rx="4.4" ry="4.4" fill="#6a6ab8" opacity="0.6" filter="url(#bl3)"/>
<ellipse cx="460.8" cy="99.5" rx="3.2" ry="3.2" fill="#2c2c98"/>
<ellipse cx="461.5" cy="107.5" rx="2.5" ry="2.5" fill="#b8b878" opacity="0.6" filter="url(#bl3)"/>
</g>
<text transform="translate(333.40,152.20) scale(0.8859,1)" font-size="8.8" text-anchor="middle" font-weight="normal" fill="#1e1e1e" stroke="#1e1e1e" stroke-width="0.3">PBS</text>
<text transform="translate(380.10,152.20) scale(0.8859,1)" font-size="8.8" text-anchor="middle" font-weight="normal" fill="#1e1e1e" stroke="#1e1e1e" stroke-width="0.3">PBS</text>
<text transform="translate(423.80,152.20) scale(0.8715,1)" font-size="8.8" text-anchor="middle" font-weight="normal" fill="#1e1e1e" stroke="#1e1e1e" stroke-width="0.3">PF</text>
<text transform="translate(475.50,152.20) scale(0.9205,1)" font-size="8.8" text-anchor="middle" font-weight="normal" fill="#1e1e1e" stroke="#1e1e1e" stroke-width="0.3">AMD</text>
<line x1="313.50" y1="158.00" x2="353.30" y2="158.00" stroke="#1e1e1e" stroke-width="1.6" />
<line x1="361.50" y1="158.00" x2="493.80" y2="158.00" stroke="#1e1e1e" stroke-width="1.6" />
<text transform="translate(333.40,174.20) scale(0.8984,1)" font-size="8.8" text-anchor="middle" font-weight="normal" fill="#1e1e1e" stroke="#1e1e1e" stroke-width="0.3">Z138KD</text>
<text transform="translate(427.20,174.20) scale(0.8966,1)" font-size="8.8" text-anchor="middle" font-weight="normal" fill="#1e1e1e" stroke="#1e1e1e" stroke-width="0.3">Z138CT</text>
<text transform="translate(300.80,193.50)" font-size="8.5" text-anchor="start" font-weight="bold" fill="#111" stroke="#111" stroke-width="0.1">ii</text>
<line x1="337.80" y1="205.40" x2="337.80" y2="349.40" stroke="#1e1e1e" stroke-width="1.5" />
<line x1="334.80" y1="348.80" x2="337.80" y2="348.80" stroke="#1e1e1e" stroke-width="1.3" />
<text transform="translate(327.90,352.80)" font-size="8.2" text-anchor="end" font-weight="normal" fill="#1e1e1e" stroke="#1e1e1e" stroke-width="0.3">0</text>
<line x1="334.80" y1="320.68" x2="337.80" y2="320.68" stroke="#1e1e1e" stroke-width="1.3" />
<text transform="translate(327.93,324.88) scale(0.9600,1)" font-size="8.4" text-anchor="end" font-weight="normal" fill="#1e1e1e" stroke="#1e1e1e" stroke-width="0.3">1.0×10</text>
<ellipse cx="330.25" cy="318.23" rx="0.95" ry="0.85" fill="none" stroke="#1e1e1e" stroke-width="0.75"/>
<ellipse cx="330.25" cy="320.23" rx="1.15" ry="1.05" fill="none" stroke="#1e1e1e" stroke-width="0.75"/>
<line x1="334.80" y1="292.56" x2="337.80" y2="292.56" stroke="#1e1e1e" stroke-width="1.3" />
<text transform="translate(327.93,296.76) scale(0.9600,1)" font-size="8.4" text-anchor="end" font-weight="normal" fill="#1e1e1e" stroke="#1e1e1e" stroke-width="0.3">2.0×10</text>
<ellipse cx="330.25" cy="290.11" rx="0.95" ry="0.85" fill="none" stroke="#1e1e1e" stroke-width="0.75"/>
<ellipse cx="330.25" cy="292.11" rx="1.15" ry="1.05" fill="none" stroke="#1e1e1e" stroke-width="0.75"/>
<line x1="334.80" y1="264.44" x2="337.80" y2="264.44" stroke="#1e1e1e" stroke-width="1.3" />
<text transform="translate(327.93,268.64) scale(0.9600,1)" font-size="8.4" text-anchor="end" font-weight="normal" fill="#1e1e1e" stroke="#1e1e1e" stroke-width="0.3">3.0×10</text>
<ellipse cx="330.25" cy="261.99" rx="0.95" ry="0.85" fill="none" stroke="#1e1e1e" stroke-width="0.75"/>
<ellipse cx="330.25" cy="263.99" rx="1.15" ry="1.05" fill="none" stroke="#1e1e1e" stroke-width="0.75"/>
<line x1="334.80" y1="236.32" x2="337.80" y2="236.32" stroke="#1e1e1e" stroke-width="1.3" />
<text transform="translate(327.93,240.52) scale(0.9600,1)" font-size="8.4" text-anchor="end" font-weight="normal" fill="#1e1e1e" stroke="#1e1e1e" stroke-width="0.3">4.0×10</text>
<ellipse cx="330.25" cy="233.87" rx="0.95" ry="0.85" fill="none" stroke="#1e1e1e" stroke-width="0.75"/>
<ellipse cx="330.25" cy="235.87" rx="1.15" ry="1.05" fill="none" stroke="#1e1e1e" stroke-width="0.75"/>
<line x1="334.80" y1="208.20" x2="337.80" y2="208.20" stroke="#1e1e1e" stroke-width="1.3" />
<text transform="translate(327.93,212.40) scale(0.9600,1)" font-size="8.4" text-anchor="end" font-weight="normal" fill="#1e1e1e" stroke="#1e1e1e" stroke-width="0.3">5.0×10</text>
<ellipse cx="330.25" cy="205.75" rx="0.95" ry="0.85" fill="none" stroke="#1e1e1e" stroke-width="0.75"/>
<ellipse cx="330.25" cy="207.75" rx="1.15" ry="1.05" fill="none" stroke="#1e1e1e" stroke-width="0.75"/>
<line x1="337.80" y1="348.80" x2="506.30" y2="348.80" stroke="#1e1e1e" stroke-width="1.5" />
<line x1="359.00" y1="348.80" x2="359.00" y2="352.20" stroke="#1e1e1e" stroke-width="1.3" />
<line x1="401.20" y1="348.80" x2="401.20" y2="352.20" stroke="#1e1e1e" stroke-width="1.3" />
<line x1="442.60" y1="348.80" x2="442.60" y2="352.20" stroke="#1e1e1e" stroke-width="1.3" />
<line x1="484.40" y1="348.80" x2="484.40" y2="352.20" stroke="#1e1e1e" stroke-width="1.3" />
<text transform="translate(297.80,276.00) rotate(-90) scale(0.9539,1)" font-size="9.0" text-anchor="middle" font-weight="normal" fill="#1e1e1e" stroke="#1e1e1e" stroke-width="0.3">IntDen end point</text>
<line x1="354.50" y1="207.70" x2="401.60" y2="207.70" stroke="#1e1e1e" stroke-width="1.3" />
<circle cx="373.70" cy="202.50" r="1.15" fill="#262626"/>
<circle cx="377.70" cy="202.50" r="1.15" fill="#262626"/>
<circle cx="381.70" cy="202.50" r="1.15" fill="#262626"/>
<line x1="401.60" y1="202.60" x2="449.00" y2="202.60" stroke="#1e1e1e" stroke-width="1.3" />
<circle cx="421.20" cy="197.30" r="1.15" fill="#262626"/>
<circle cx="425.20" cy="197.30" r="1.15" fill="#262626"/>
<circle cx="429.20" cy="197.30" r="1.15" fill="#262626"/>
<line x1="401.60" y1="190.70" x2="489.80" y2="190.70" stroke="#1e1e1e" stroke-width="1.3" />
<circle cx="441.50" cy="185.60" r="1.15" fill="#262626"/>
<circle cx="445.50" cy="185.60" r="1.15" fill="#262626"/>
<circle cx="449.50" cy="185.60" r="1.15" fill="#262626"/>
<line x1="359.00" y1="321.00" x2="359.00" y2="348.00" stroke="#9a1030" stroke-width="1.3" />
<line x1="350.90" y1="321.00" x2="366.90" y2="321.00" stroke="#9a1030" stroke-width="1.4" />
<circle cx="359.00" cy="302.00" r="2.4" fill="#9a1030"/>
<circle cx="359.00" cy="328.00" r="2.4" fill="#9a1030"/>
<circle cx="358.50" cy="340.00" r="2.4" fill="#9a1030"/>
<circle cx="355.10" cy="341.60" r="2.4" fill="#9a1030"/>
<circle cx="352.30" cy="344.40" r="2.4" fill="#9a1030"/>
<circle cx="361.90" cy="343.10" r="2.4" fill="#9a1030"/>
<circle cx="358.80" cy="346.60" r="2.4" fill="#9a1030"/>
<circle cx="365.50" cy="346.60" r="2.4" fill="#9a1030"/>
<line x1="344.70" y1="336.90" x2="373.30" y2="336.90" stroke="#1e1e1e" stroke-width="1.6" />
<line x1="401.20" y1="252.20" x2="401.20" y2="316.30" stroke="#9c1037" stroke-width="1.3" />
<line x1="393.40" y1="252.20" x2="409.00" y2="252.20" stroke="#9c1037" stroke-width="1.4" />
<line x1="393.40" y1="316.30" x2="409.00" y2="316.30" stroke="#9c1037" stroke-width="1.4" />
<rect x="398.80" y="216.10" width="4.8" height="4.8" fill="#9c1037"/>
<rect x="398.80" y="260.40" width="4.8" height="4.8" fill="#9c1037"/>
<rect x="394.30" y="281.10" width="4.8" height="4.8" fill="#9c1037"/>
<rect x="401.80" y="281.10" width="4.8" height="4.8" fill="#9c1037"/>
<rect x="391.80" y="296.60" width="4.8" height="4.8" fill="#9c1037"/>
<rect x="405.60" y="295.10" width="4.8" height="4.8" fill="#9c1037"/>
<rect x="398.80" y="301.80" width="4.8" height="4.8" fill="#9c1037"/>
<rect x="399.10" y="321.40" width="4.8" height="4.8" fill="#9c1037"/>
<line x1="386.70" y1="283.80" x2="415.20" y2="283.80" stroke="#1e1e1e" stroke-width="1.6" />
<line x1="442.60" y1="326.80" x2="442.60" y2="346.70" stroke="#33508a" stroke-width="1.3" />
<line x1="435.20" y1="326.80" x2="450.80" y2="326.80" stroke="#33508a" stroke-width="1.4" />
<line x1="435.20" y1="346.70" x2="450.80" y2="346.70" stroke="#33508a" stroke-width="1.4" />
<polygon points="442.50,314.60 440.00,319.10 445.00,319.10" fill="#33508a"/>
<polygon points="442.50,328.90 440.00,333.40 445.00,333.40" fill="#33508a"/>
<polygon points="436.40,332.40 433.90,336.90 438.90,336.90" fill="#33508a"/>
<polygon points="449.40,331.20 446.90,335.70 451.90,335.70" fill="#33508a"/>
<polygon points="442.50,337.10 440.00,341.60 445.00,341.60" fill="#33508a"/>
<polygon points="436.40,339.30 433.90,343.80 438.90,343.80" fill="#33508a"/>
<polygon points="442.50,341.00 440.00,345.50 445.00,345.50" fill="#33508a"/>
<polygon points="449.80,343.30 447.30,347.80 452.30,347.80" fill="#33508a"/>
<line x1="429.00" y1="336.30" x2="456.90" y2="336.30" stroke="#1e1e1e" stroke-width="1.6" />
<line x1="484.40" y1="341.00" x2="484.40" y2="346.00" stroke="#80b446" stroke-width="1.3" />
<line x1="477.00" y1="341.00" x2="492.00" y2="341.00" stroke="#80b446" stroke-width="1.3" />
<line x1="477.00" y1="346.30" x2="492.00" y2="346.30" stroke="#80b446" stroke-width="1.3" />
<polygon points="479.70,342.89 477.30,338.57 482.10,338.57" fill="#80b446"/>
<polygon points="481.90,342.59 479.50,338.27 484.30,338.27" fill="#80b446"/>
<polygon points="485.70,344.59 483.30,340.27 488.10,340.27" fill="#80b446"/>
<polygon points="488.50,344.09 486.10,339.77 490.90,339.77" fill="#80b446"/>
<polygon points="477.00,348.89 474.60,344.57 479.40,344.57" fill="#80b446"/>
<polygon points="485.00,348.89 482.60,344.57 487.40,344.57" fill="#80b446"/>
<polygon points="481.00,347.59 478.60,343.27 483.40,343.27" fill="#80b446"/>
<polygon points="490.00,347.09 487.60,342.77 492.40,342.77" fill="#80b446"/>
<line x1="471.60" y1="344.30" x2="498.70" y2="344.30" stroke="#1e1e1e" stroke-width="1.6" />
<text transform="translate(363.00,358.10) rotate(-45) scale(0.9850,1)" font-size="8.2" text-anchor="end" font-weight="normal" fill="#1e1e1e" stroke="#1e1e1e" stroke-width="0.15">Z138KD PBS</text>
<text transform="translate(405.20,358.10) rotate(-45) scale(0.9850,1)" font-size="8.2" text-anchor="end" font-weight="normal" fill="#1e1e1e" stroke="#1e1e1e" stroke-width="0.15">Z138CT PBS</text>
<text transform="translate(446.60,358.10) rotate(-45) scale(0.9850,1)" font-size="8.2" text-anchor="end" font-weight="normal" fill="#1e1e1e" stroke="#1e1e1e" stroke-width="0.15">Z138CT PF</text>
<text transform="translate(488.40,358.10) rotate(-45) scale(0.9850,1)" font-size="8.2" text-anchor="end" font-weight="normal" fill="#1e1e1e" stroke="#1e1e1e" stroke-width="0.15">Z138CT AMD</text>
<text transform="translate(7.00,437.90)" font-size="11.6" text-anchor="start" font-weight="bold" fill="#111" stroke="#111" stroke-width="0.1">D</text>
<line x1="41.20" y1="467.40" x2="41.20" y2="572.20" stroke="#1e1e1e" stroke-width="1.5" />
<line x1="38.20" y1="571.60" x2="41.20" y2="571.60" stroke="#1e1e1e" stroke-width="1.3" />
<text transform="translate(36.00,574.90) scale(0.9300,1)" font-size="8.6" text-anchor="end" font-weight="normal" fill="#1e1e1e" stroke="#1e1e1e" stroke-width="0.3">0</text>
<line x1="38.20" y1="554.70" x2="41.20" y2="554.70" stroke="#1e1e1e" stroke-width="1.3" />
<text transform="translate(36.00,558.00) scale(0.9300,1)" font-size="8.6" text-anchor="end" font-weight="normal" fill="#1e1e1e" stroke="#1e1e1e" stroke-width="0.3">10</text>
<line x1="38.20" y1="537.80" x2="41.20" y2="537.80" stroke="#1e1e1e" stroke-width="1.3" />
<text transform="translate(36.00,541.10) scale(0.9300,1)" font-size="8.6" text-anchor="end" font-weight="normal" fill="#1e1e1e" stroke="#1e1e1e" stroke-width="0.3">20</text>
<line x1="38.20" y1="520.90" x2="41.20" y2="520.90" stroke="#1e1e1e" stroke-width="1.3" />
<text transform="translate(36.00,524.20) scale(0.9300,1)" font-size="8.6" text-anchor="end" font-weight="normal" fill="#1e1e1e" stroke="#1e1e1e" stroke-width="0.3">30</text>
<line x1="38.20" y1="504.00" x2="41.20" y2="504.00" stroke="#1e1e1e" stroke-width="1.3" />
<text transform="translate(36.00,507.30) scale(0.9300,1)" font-size="8.6" text-anchor="end" font-weight="normal" fill="#1e1e1e" stroke="#1e1e1e" stroke-width="0.3">40</text>
<line x1="38.20" y1="487.10" x2="41.20" y2="487.10" stroke="#1e1e1e" stroke-width="1.3" />
<text transform="translate(36.00,490.40) scale(0.9300,1)" font-size="8.6" text-anchor="end" font-weight="normal" fill="#1e1e1e" stroke="#1e1e1e" stroke-width="0.3">50</text>
<line x1="38.20" y1="470.20" x2="41.20" y2="470.20" stroke="#1e1e1e" stroke-width="1.3" />
<text transform="translate(36.00,473.50) scale(0.9300,1)" font-size="8.6" text-anchor="end" font-weight="normal" fill="#1e1e1e" stroke="#1e1e1e" stroke-width="0.3">60</text>
<line x1="41.20" y1="571.60" x2="173.00" y2="571.60" stroke="#1e1e1e" stroke-width="1.5" />
<line x1="58.75" y1="571.60" x2="58.75" y2="575.00" stroke="#1e1e1e" stroke-width="1.3" />
<line x1="92.50" y1="571.60" x2="92.50" y2="575.00" stroke="#1e1e1e" stroke-width="1.3" />
<line x1="125.75" y1="571.60" x2="125.75" y2="575.00" stroke="#1e1e1e" stroke-width="1.3" />
<line x1="159.50" y1="571.60" x2="159.50" y2="575.00" stroke="#1e1e1e" stroke-width="1.3" />
<text transform="translate(20.60,519.40) rotate(-90) scale(0.9112,1)" font-size="9.8" text-anchor="middle" font-weight="normal" fill="#1e1e1e" stroke="#1e1e1e" stroke-width="0.3">Number of human MCL cells in PB (%)</text>
<text transform="translate(62.75,580.90) rotate(-45) scale(0.9000,1)" font-size="9.0" text-anchor="end" font-weight="normal" fill="#1e1e1e" stroke="#1e1e1e" stroke-width="0.15">Z138KD PBS</text>
<text transform="translate(96.50,580.90) rotate(-45) scale(0.9000,1)" font-size="9.0" text-anchor="end" font-weight="normal" fill="#1e1e1e" stroke="#1e1e1e" stroke-width="0.15">Z138CT PBS</text>
<text transform="translate(129.75,580.90) rotate(-45) scale(0.9000,1)" font-size="9.0" text-anchor="end" font-weight="normal" fill="#1e1e1e" stroke="#1e1e1e" stroke-width="0.15">Z138CT PF</text>
<text transform="translate(163.50,580.90) rotate(-45) scale(0.9000,1)" font-size="9.0" text-anchor="end" font-weight="normal" fill="#1e1e1e" stroke="#1e1e1e" stroke-width="0.15">Z138CT AMD</text>
<line x1="209.90" y1="464.10" x2="209.90" y2="572.30" stroke="#1e1e1e" stroke-width="1.5" />
<line x1="206.90" y1="571.70" x2="209.90" y2="571.70" stroke="#1e1e1e" stroke-width="1.3" />
<text transform="translate(204.60,575.00) scale(0.9300,1)" font-size="8.6" text-anchor="end" font-weight="normal" fill="#1e1e1e" stroke="#1e1e1e" stroke-width="0.3">0</text>
<line x1="206.90" y1="558.60" x2="209.90" y2="558.60" stroke="#1e1e1e" stroke-width="1.3" />
<text transform="translate(204.60,561.90) scale(0.9300,1)" font-size="8.6" text-anchor="end" font-weight="normal" fill="#1e1e1e" stroke="#1e1e1e" stroke-width="0.3">10</text>
<line x1="206.90" y1="545.50" x2="209.90" y2="545.50" stroke="#1e1e1e" stroke-width="1.3" />
<text transform="translate(204.60,548.80) scale(0.9300,1)" font-size="8.6" text-anchor="end" font-weight="normal" fill="#1e1e1e" stroke="#1e1e1e" stroke-width="0.3">20</text>
<line x1="206.90" y1="532.40" x2="209.90" y2="532.40" stroke="#1e1e1e" stroke-width="1.3" />
<text transform="translate(204.60,535.70) scale(0.9300,1)" font-size="8.6" text-anchor="end" font-weight="normal" fill="#1e1e1e" stroke="#1e1e1e" stroke-width="0.3">30</text>
<line x1="206.90" y1="519.30" x2="209.90" y2="519.30" stroke="#1e1e1e" stroke-width="1.3" />
<text transform="translate(204.60,522.60) scale(0.9300,1)" font-size="8.6" text-anchor="end" font-weight="normal" fill="#1e1e1e" stroke="#1e1e1e" stroke-width="0.3">40</text>
<line x1="206.90" y1="506.20" x2="209.90" y2="506.20" stroke="#1e1e1e" stroke-width="1.3" />
<text transform="translate(204.60,509.50) scale(0.9300,1)" font-size="8.6" text-anchor="end" font-weight="normal" fill="#1e1e1e" stroke="#1e1e1e" stroke-width="0.3">50</text>
<line x1="206.90" y1="493.10" x2="209.90" y2="493.10" stroke="#1e1e1e" stroke-width="1.3" />
<text transform="translate(204.60,496.40) scale(0.9300,1)" font-size="8.6" text-anchor="end" font-weight="normal" fill="#1e1e1e" stroke="#1e1e1e" stroke-width="0.3">60</text>
<line x1="206.90" y1="480.00" x2="209.90" y2="480.00" stroke="#1e1e1e" stroke-width="1.3" />
<text transform="translate(204.60,483.30) scale(0.9300,1)" font-size="8.6" text-anchor="end" font-weight="normal" fill="#1e1e1e" stroke="#1e1e1e" stroke-width="0.3">70</text>
<line x1="206.90" y1="466.90" x2="209.90" y2="466.90" stroke="#1e1e1e" stroke-width="1.3" />
<text transform="translate(204.60,470.20) scale(0.9300,1)" font-size="8.6" text-anchor="end" font-weight="normal" fill="#1e1e1e" stroke="#1e1e1e" stroke-width="0.3">80</text>
<line x1="209.90" y1="571.70" x2="341.80" y2="571.70" stroke="#1e1e1e" stroke-width="1.5" />
<line x1="227.00" y1="571.70" x2="227.00" y2="575.10" stroke="#1e1e1e" stroke-width="1.3" />
<line x1="260.00" y1="571.70" x2="260.00" y2="575.10" stroke="#1e1e1e" stroke-width="1.3" />
<line x1="293.00" y1="571.70" x2="293.00" y2="575.10" stroke="#1e1e1e" stroke-width="1.3" />
<line x1="326.30" y1="571.70" x2="326.30" y2="575.10" stroke="#1e1e1e" stroke-width="1.3" />
<text transform="translate(188.60,517.40) rotate(-90) scale(0.9024,1)" font-size="9.8" text-anchor="middle" font-weight="normal" fill="#1e1e1e" stroke="#1e1e1e" stroke-width="0.3">Number of human MCL cells in BM (%)</text>
<text transform="translate(231.00,581.00) rotate(-45) scale(0.9000,1)" font-size="9.0" text-anchor="end" font-weight="normal" fill="#1e1e1e" stroke="#1e1e1e" stroke-width="0.15">Z138KD PBS</text>
<text transform="translate(264.00,581.00) rotate(-45) scale(0.9000,1)" font-size="9.0" text-anchor="end" font-weight="normal" fill="#1e1e1e" stroke="#1e1e1e" stroke-width="0.15">Z138CT PBS</text>
<text transform="translate(297.00,581.00) rotate(-45) scale(0.9000,1)" font-size="9.0" text-anchor="end" font-weight="normal" fill="#1e1e1e" stroke="#1e1e1e" stroke-width="0.15">Z138CT PF</text>
<text transform="translate(330.30,581.00) rotate(-45) scale(0.9000,1)" font-size="9.0" text-anchor="end" font-weight="normal" fill="#1e1e1e" stroke="#1e1e1e" stroke-width="0.15">Z138CT AMD</text>
<line x1="376.60" y1="464.90" x2="376.60" y2="572.10" stroke="#1e1e1e" stroke-width="1.5" />
<line x1="373.60" y1="571.50" x2="376.60" y2="571.50" stroke="#1e1e1e" stroke-width="1.3" />
<text transform="translate(371.20,574.80) scale(0.9300,1)" font-size="8.6" text-anchor="end" font-weight="normal" fill="#1e1e1e" stroke="#1e1e1e" stroke-width="0.3">0</text>
<line x1="373.60" y1="554.20" x2="376.60" y2="554.20" stroke="#1e1e1e" stroke-width="1.3" />
<text transform="translate(371.20,557.50) scale(0.9300,1)" font-size="8.6" text-anchor="end" font-weight="normal" fill="#1e1e1e" stroke="#1e1e1e" stroke-width="0.3">10</text>
<line x1="373.60" y1="536.90" x2="376.60" y2="536.90" stroke="#1e1e1e" stroke-width="1.3" />
<text transform="translate(371.20,540.20) scale(0.9300,1)" font-size="8.6" text-anchor="end" font-weight="normal" fill="#1e1e1e" stroke="#1e1e1e" stroke-width="0.3">20</text>
<line x1="373.60" y1="519.60" x2="376.60" y2="519.60" stroke="#1e1e1e" stroke-width="1.3" />
<text transform="translate(371.20,522.90) scale(0.9300,1)" font-size="8.6" text-anchor="end" font-weight="normal" fill="#1e1e1e" stroke="#1e1e1e" stroke-width="0.3">30</text>
<line x1="373.60" y1="502.30" x2="376.60" y2="502.30" stroke="#1e1e1e" stroke-width="1.3" />
<text transform="translate(371.20,505.60) scale(0.9300,1)" font-size="8.6" text-anchor="end" font-weight="normal" fill="#1e1e1e" stroke="#1e1e1e" stroke-width="0.3">40</text>
<line x1="373.60" y1="485.00" x2="376.60" y2="485.00" stroke="#1e1e1e" stroke-width="1.3" />
<text transform="translate(371.20,488.30) scale(0.9300,1)" font-size="8.6" text-anchor="end" font-weight="normal" fill="#1e1e1e" stroke="#1e1e1e" stroke-width="0.3">50</text>
<line x1="373.60" y1="467.70" x2="376.60" y2="467.70" stroke="#1e1e1e" stroke-width="1.3" />
<text transform="translate(371.20,471.00) scale(0.9300,1)" font-size="8.6" text-anchor="end" font-weight="normal" fill="#1e1e1e" stroke="#1e1e1e" stroke-width="0.3">60</text>
<line x1="376.60" y1="571.50" x2="509.50" y2="571.50" stroke="#1e1e1e" stroke-width="1.5" />
<line x1="394.30" y1="571.50" x2="394.30" y2="574.90" stroke="#1e1e1e" stroke-width="1.3" />
<line x1="428.80" y1="571.50" x2="428.80" y2="574.90" stroke="#1e1e1e" stroke-width="1.3" />
<line x1="463.00" y1="571.50" x2="463.00" y2="574.90" stroke="#1e1e1e" stroke-width="1.3" />
<line x1="496.80" y1="571.50" x2="496.80" y2="574.90" stroke="#1e1e1e" stroke-width="1.3" />
<text transform="translate(355.30,518.60) rotate(-90) scale(0.9141,1)" font-size="9.8" text-anchor="middle" font-weight="normal" fill="#1e1e1e" stroke="#1e1e1e" stroke-width="0.3">Number of human MCL cells in LN (%)</text>
<text transform="translate(398.30,580.80) rotate(-45) scale(0.9000,1)" font-size="9.0" text-anchor="end" font-weight="normal" fill="#1e1e1e" stroke="#1e1e1e" stroke-width="0.15">Z138KD PBS</text>
<text transform="translate(432.80,580.80) rotate(-45) scale(0.9000,1)" font-size="9.0" text-anchor="end" font-weight="normal" fill="#1e1e1e" stroke="#1e1e1e" stroke-width="0.15">Z138CT PBS</text>
<text transform="translate(467.00,580.80) rotate(-45) scale(0.9000,1)" font-size="9.0" text-anchor="end" font-weight="normal" fill="#1e1e1e" stroke="#1e1e1e" stroke-width="0.15">Z138CT PF</text>
<text transform="translate(500.80,580.80) rotate(-45) scale(0.9000,1)" font-size="9.0" text-anchor="end" font-weight="normal" fill="#1e1e1e" stroke="#1e1e1e" stroke-width="0.15">Z138CT AMD</text>
<line x1="58.75" y1="510.70" x2="58.75" y2="558.30" stroke="#9a1030" stroke-width="1.3" />
<line x1="52.50" y1="510.70" x2="65.00" y2="510.70" stroke="#9a1030" stroke-width="1.4" />
<line x1="52.50" y1="558.30" x2="65.00" y2="558.30" stroke="#9a1030" stroke-width="1.4" />
<circle cx="53.70" cy="506.80" r="1.85" fill="#9a1030"/>
<circle cx="63.30" cy="506.80" r="1.85" fill="#9a1030"/>
<circle cx="58.70" cy="509.50" r="1.85" fill="#9a1030"/>
<circle cx="56.30" cy="537.50" r="1.85" fill="#9a1030"/>
<circle cx="61.30" cy="541.80" r="1.85" fill="#9a1030"/>
<circle cx="58.70" cy="550.50" r="1.85" fill="#9a1030"/>
<circle cx="58.30" cy="565.80" r="1.85" fill="#9a1030"/>
<line x1="48.50" y1="534.30" x2="69.00" y2="534.30" stroke="#1e1e1e" stroke-width="1.6" />
<line x1="92.50" y1="543.80" x2="92.50" y2="571.00" stroke="#9c1037" stroke-width="1.3" />
<line x1="86.00" y1="543.80" x2="99.00" y2="543.80" stroke="#9c1037" stroke-width="1.4" />
<line x1="86.00" y1="571.00" x2="99.00" y2="571.00" stroke="#9c1037" stroke-width="1.4" />
<rect x="84.85" y="539.85" width="3.9" height="3.9" fill="#9c1037"/>
<rect x="95.05" y="539.85" width="3.9" height="3.9" fill="#9c1037"/>
<rect x="90.25" y="541.55" width="3.9" height="3.9" fill="#9c1037"/>
<rect x="87.35" y="550.55" width="3.9" height="3.9" fill="#9c1037"/>
<rect x="91.85" y="554.35" width="3.9" height="3.9" fill="#9c1037"/>
<rect x="84.35" y="567.35" width="3.9" height="3.9" fill="#9c1037"/>
<rect x="90.55" y="567.35" width="3.9" height="3.9" fill="#9c1037"/>
<rect x="96.55" y="567.35" width="3.9" height="3.9" fill="#9c1037"/>
<line x1="81.85" y1="555.50" x2="103.15" y2="555.50" stroke="#1e1e1e" stroke-width="1.6" />
<line x1="125.75" y1="490.50" x2="125.75" y2="549.30" stroke="#33508a" stroke-width="1.3" />
<line x1="120.50" y1="490.50" x2="131.00" y2="490.50" stroke="#33508a" stroke-width="1.4" />
<line x1="120.50" y1="549.30" x2="131.00" y2="549.30" stroke="#33508a" stroke-width="1.4" />
<polygon points="125.00,488.62 122.80,492.58 127.20,492.58" fill="#33508a"/>
<polygon points="127.50,492.12 125.30,496.08 129.70,496.08" fill="#33508a"/>
<polygon points="123.30,495.92 121.10,499.88 125.50,499.88" fill="#33508a"/>
<polygon points="122.50,503.42 120.30,507.38 124.70,507.38" fill="#33508a"/>
<polygon points="127.50,508.42 125.30,512.38 129.70,512.38" fill="#33508a"/>
<polygon points="125.80,542.62 123.60,546.58 128.00,546.58" fill="#33508a"/>
<polygon points="125.50,553.12 123.30,557.08 127.70,557.08" fill="#33508a"/>
<polygon points="125.50,560.62 123.30,564.58 127.70,564.58" fill="#33508a"/>
<line x1="115.75" y1="520.00" x2="135.75" y2="520.00" stroke="#1e1e1e" stroke-width="1.6" />
<line x1="159.50" y1="537.80" x2="159.50" y2="543.50" stroke="#80b446" stroke-width="1.3" />
<line x1="154.50" y1="537.80" x2="164.50" y2="537.80" stroke="#80b446" stroke-width="1.4" />
<line x1="154.50" y1="543.50" x2="164.50" y2="543.50" stroke="#80b446" stroke-width="1.4" />
<polygon points="159.50,536.16 157.50,532.56 161.50,532.56" fill="#80b446"/>
<polygon points="156.00,542.16 154.00,538.56 158.00,538.56" fill="#80b446"/>
<polygon points="162.50,542.66 160.50,539.06 164.50,539.06" fill="#80b446"/>
<polygon points="155.50,545.66 153.50,542.06 157.50,542.06" fill="#80b446"/>
<polygon points="159.50,545.16 157.50,541.56 161.50,541.56" fill="#80b446"/>
<polygon points="163.50,545.66 161.50,542.06 165.50,542.06" fill="#80b446"/>
<line x1="150.15" y1="540.50" x2="168.85" y2="540.50" stroke="#1e1e1e" stroke-width="1.6" />
<line x1="58.30" y1="492.30" x2="93.00" y2="492.30" stroke="#1e1e1e" stroke-width="1.3" />
<circle cx="75.50" cy="486.50" r="1.15" fill="#262626"/>
<line x1="93.50" y1="481.30" x2="126.50" y2="481.30" stroke="#1e1e1e" stroke-width="1.3" />
<circle cx="110.70" cy="476.20" r="1.15" fill="#262626"/>
<circle cx="114.70" cy="476.20" r="1.15" fill="#262626"/>
<line x1="93.50" y1="465.60" x2="159.20" y2="465.60" stroke="#1e1e1e" stroke-width="1.3" />
<circle cx="124.20" cy="460.20" r="1.15" fill="#262626"/>
<circle cx="128.20" cy="460.20" r="1.15" fill="#262626"/>
<line x1="227.00" y1="522.00" x2="227.00" y2="560.80" stroke="#9a1030" stroke-width="1.3" />
<line x1="221.35" y1="522.00" x2="232.65" y2="522.00" stroke="#9a1030" stroke-width="1.4" />
<line x1="221.35" y1="560.80" x2="232.65" y2="560.80" stroke="#9a1030" stroke-width="1.4" />
<circle cx="223.80" cy="524.50" r="1.85" fill="#9a1030"/>
<circle cx="228.80" cy="524.00" r="1.85" fill="#9a1030"/>
<circle cx="229.30" cy="530.50" r="1.85" fill="#9a1030"/>
<circle cx="226.80" cy="536.80" r="1.85" fill="#9a1030"/>
<circle cx="226.80" cy="560.00" r="1.85" fill="#9a1030"/>
<circle cx="223.80" cy="567.50" r="1.85" fill="#9a1030"/>
<circle cx="229.30" cy="567.50" r="1.85" fill="#9a1030"/>
<line x1="217.00" y1="541.30" x2="237.00" y2="541.30" stroke="#1e1e1e" stroke-width="1.6" />
<line x1="260.00" y1="505.00" x2="260.00" y2="536.80" stroke="#9c1037" stroke-width="1.3" />
<line x1="255.00" y1="505.00" x2="265.00" y2="505.00" stroke="#9c1037" stroke-width="1.4" />
<line x1="255.00" y1="536.80" x2="265.00" y2="536.80" stroke="#9c1037" stroke-width="1.4" />
<rect x="258.05" y="489.75" width="3.9" height="3.9" fill="#9c1037"/>
<rect x="258.05" y="506.55" width="3.9" height="3.9" fill="#9c1037"/>
<rect x="258.05" y="515.55" width="3.9" height="3.9" fill="#9c1037"/>
<rect x="252.55" y="521.05" width="3.9" height="3.9" fill="#9c1037"/>
<rect x="263.05" y="521.55" width="3.9" height="3.9" fill="#9c1037"/>
<rect x="258.05" y="523.55" width="3.9" height="3.9" fill="#9c1037"/>
<rect x="258.05" y="541.05" width="3.9" height="3.9" fill="#9c1037"/>
<line x1="250.00" y1="521.00" x2="270.00" y2="521.00" stroke="#1e1e1e" stroke-width="1.6" />
<line x1="293.00" y1="517.50" x2="293.00" y2="559.30" stroke="#33508a" stroke-width="1.3" />
<line x1="287.85" y1="517.50" x2="298.15" y2="517.50" stroke="#33508a" stroke-width="1.4" />
<line x1="287.85" y1="559.30" x2="298.15" y2="559.30" stroke="#33508a" stroke-width="1.4" />
<polygon points="288.00,523.42 285.80,527.38 290.20,527.38" fill="#33508a"/>
<polygon points="296.30,518.42 294.10,522.38 298.50,522.38" fill="#33508a"/>
<polygon points="297.50,524.62 295.30,528.58 299.70,528.58" fill="#33508a"/>
<polygon points="293.00,528.12 290.80,532.08 295.20,532.08" fill="#33508a"/>
<polygon points="293.00,538.92 290.80,542.88 295.20,542.88" fill="#33508a"/>
<polygon points="291.50,568.62 289.30,572.58 293.70,572.58" fill="#33508a"/>
<polygon points="295.50,567.62 293.30,571.58 297.70,571.58" fill="#33508a"/>
<line x1="282.60" y1="538.00" x2="303.40" y2="538.00" stroke="#1e1e1e" stroke-width="1.6" />
<line x1="326.30" y1="545.00" x2="326.30" y2="548.50" stroke="#80b446" stroke-width="1.3" />
<line x1="321.30" y1="545.00" x2="331.30" y2="545.00" stroke="#80b446" stroke-width="1.4" />
<line x1="321.30" y1="548.50" x2="331.30" y2="548.50" stroke="#80b446" stroke-width="1.4" />
<polygon points="321.50,547.16 319.50,543.56 323.50,543.56" fill="#80b446"/>
<polygon points="325.00,547.66 323.00,544.06 327.00,544.06" fill="#80b446"/>
<polygon points="329.00,547.16 327.00,543.56 331.00,543.56" fill="#80b446"/>
<polygon points="323.00,550.46 321.00,546.86 325.00,546.86" fill="#80b446"/>
<polygon points="327.00,550.96 325.00,547.36 329.00,547.36" fill="#80b446"/>
<polygon points="331.00,549.66 329.00,546.06 333.00,546.06" fill="#80b446"/>
<line x1="316.30" y1="546.80" x2="336.30" y2="546.80" stroke="#1e1e1e" stroke-width="1.6" />
<line x1="226.70" y1="464.70" x2="261.20" y2="464.70" stroke="#1e1e1e" stroke-width="1.3" />
<circle cx="243.50" cy="459.20" r="1.15" fill="#262626"/>
<line x1="260.60" y1="473.70" x2="327.90" y2="473.70" stroke="#1e1e1e" stroke-width="1.3" />
<circle cx="291.80" cy="467.90" r="1.15" fill="#262626"/>
<circle cx="295.80" cy="467.90" r="1.15" fill="#262626"/>
<line x1="260.60" y1="482.30" x2="295.20" y2="482.30" stroke="#1e1e1e" stroke-width="1.3" />
<circle cx="277.90" cy="476.50" r="1.15" fill="#262626"/>
<line x1="394.30" y1="509.50" x2="394.30" y2="565.00" stroke="#9a1030" stroke-width="1.3" />
<line x1="389.05" y1="509.50" x2="399.55" y2="509.50" stroke="#9a1030" stroke-width="1.4" />
<line x1="389.05" y1="565.00" x2="399.55" y2="565.00" stroke="#9a1030" stroke-width="1.4" />
<circle cx="394.40" cy="496.50" r="1.85" fill="#9a1030"/>
<circle cx="394.30" cy="546.80" r="1.85" fill="#9a1030"/>
<circle cx="394.30" cy="558.80" r="1.85" fill="#9a1030"/>
<circle cx="391.80" cy="569.30" r="1.85" fill="#9a1030"/>
<line x1="383.90" y1="536.30" x2="404.70" y2="536.30" stroke="#1e1e1e" stroke-width="1.6" />
<polygon points="391.80,512.57 389.70,508.79 393.90,508.79" fill="#9a1030"/>
<polygon points="397.40,512.57 395.30,508.79 399.50,508.79" fill="#9a1030"/>
<polygon points="397.00,568.57 394.90,564.79 399.10,564.79" fill="#9a1030"/>
<line x1="428.80" y1="496.20" x2="428.80" y2="540.00" stroke="#9c1037" stroke-width="1.3" />
<line x1="423.30" y1="496.20" x2="434.30" y2="496.20" stroke="#9c1037" stroke-width="1.4" />
<line x1="423.30" y1="540.00" x2="434.30" y2="540.00" stroke="#9c1037" stroke-width="1.4" />
<rect x="426.85" y="478.25" width="3.9" height="3.9" fill="#9c1037"/>
<rect x="424.85" y="501.85" width="3.9" height="3.9" fill="#9c1037"/>
<rect x="429.85" y="503.85" width="3.9" height="3.9" fill="#9c1037"/>
<rect x="426.85" y="545.05" width="3.9" height="3.9" fill="#9c1037"/>
<line x1="418.55" y1="518.00" x2="439.05" y2="518.00" stroke="#1e1e1e" stroke-width="1.6" />
<circle cx="428.80" cy="515.00" r="1.85" fill="#9c1037"/>
<circle cx="428.80" cy="520.80" r="1.85" fill="#9c1037"/>
<circle cx="428.80" cy="531.30" r="1.85" fill="#9c1037"/>
<line x1="463.00" y1="520.50" x2="463.00" y2="550.00" stroke="#33508a" stroke-width="1.3" />
<line x1="457.85" y1="520.50" x2="468.15" y2="520.50" stroke="#33508a" stroke-width="1.4" />
<line x1="457.85" y1="550.00" x2="468.15" y2="550.00" stroke="#33508a" stroke-width="1.4" />
<polygon points="460.50,512.62 458.30,516.58 462.70,516.58" fill="#33508a"/>
<polygon points="466.30,514.42 464.10,518.38 468.50,518.38" fill="#33508a"/>
<polygon points="456.30,540.12 454.10,544.08 458.50,544.08" fill="#33508a"/>
<polygon points="462.50,539.62 460.30,543.58 464.70,543.58" fill="#33508a"/>
<polygon points="466.30,541.42 464.10,545.38 468.50,545.38" fill="#33508a"/>
<polygon points="470.00,540.12 467.80,544.08 472.20,544.08" fill="#33508a"/>
<polygon points="462.50,555.62 460.30,559.58 464.70,559.58" fill="#33508a"/>
<line x1="453.10" y1="535.00" x2="472.90" y2="535.00" stroke="#1e1e1e" stroke-width="1.6" />
<line x1="496.80" y1="500.80" x2="496.80" y2="526.80" stroke="#80b446" stroke-width="1.3" />
<line x1="491.05" y1="500.80" x2="502.55" y2="500.80" stroke="#80b446" stroke-width="1.4" />
<line x1="491.05" y1="526.80" x2="502.55" y2="526.80" stroke="#80b446" stroke-width="1.4" />
<polygon points="497.20,502.66 495.20,499.06 499.20,499.06" fill="#80b446"/>
<polygon points="499.60,507.36 497.60,503.76 501.60,503.76" fill="#80b446"/>
<polygon points="494.80,510.96 492.80,507.36 496.80,507.36" fill="#80b446"/>
<polygon points="496.80,522.56 494.80,518.96 498.80,518.96" fill="#80b446"/>
<polygon points="496.80,533.36 494.80,529.76 498.80,529.76" fill="#80b446"/>
<line x1="486.70" y1="513.80" x2="506.90" y2="513.80" stroke="#1e1e1e" stroke-width="1.6" />
<line x1="388.00" y1="469.80" x2="426.50" y2="469.80" stroke="#1e1e1e" stroke-width="1.3" />
<circle cx="407.30" cy="464.40" r="1.15" fill="#262626"/>
<line x1="424.80" y1="463.10" x2="468.10" y2="463.10" stroke="#1e1e1e" stroke-width="1.3" />
<circle cx="446.50" cy="457.30" r="1.15" fill="#262626"/>
<rect x="0.5" y="0.5" width="519" height="622.5" fill="none" stroke="#000" stroke-width="1.3"/>
<line x1="0" y1="623" x2="520" y2="623" stroke="#000" stroke-width="2"/>
</svg>
</body></html>
